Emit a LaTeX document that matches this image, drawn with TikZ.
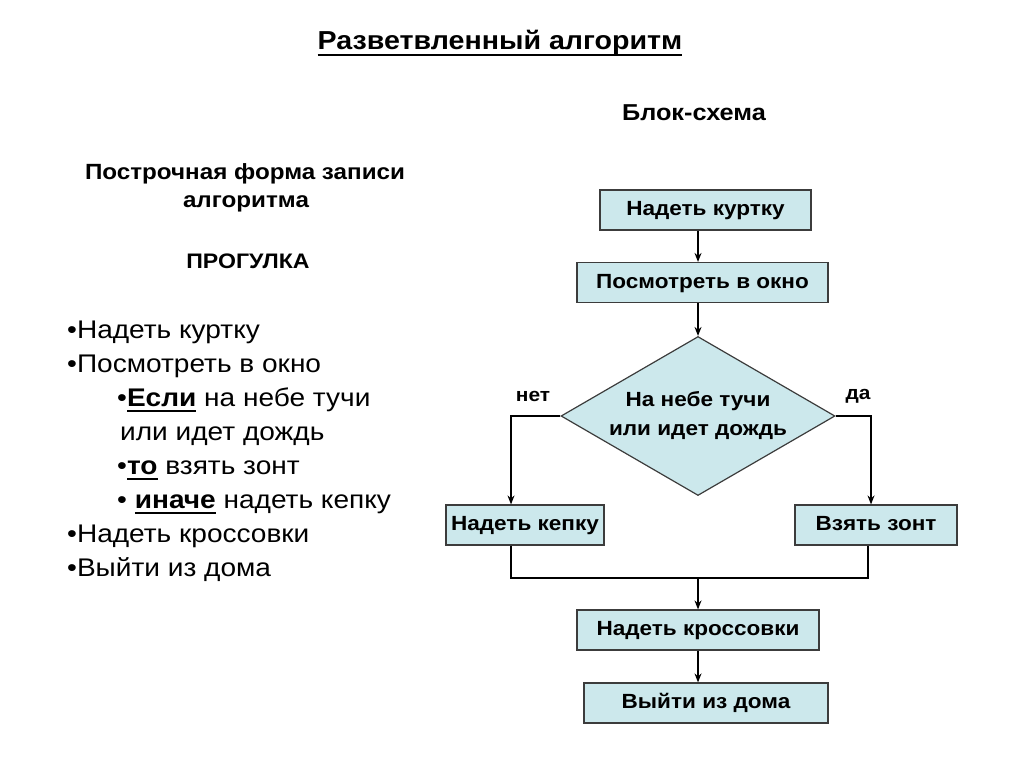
\documentclass[tikz,border=0pt]{standalone}
\usepackage{fontspec}
\setmainfont{Liberation Sans}[FakeStretch=1.1]
\usetikzlibrary{arrows.meta, positioning, shapes.geometric}

\definecolor{boxfill}{RGB}{204,232,236}
\definecolor{boxline}{RGB}{60,60,60}

% thick underline
\newcommand{\thickul}[3]{\setbox0\hbox{#3}\rlap{\rule[#1]{\wd0}{#2}}\box0\relax}

\tikzset{
	block/.style={draw=boxline, fill=boxfill, line width=1.2pt, inner sep=0pt, minimum height=40pt, text height=14pt, text depth=3pt, font=\fontsize{20.5}{24}\selectfont\bfseries},
	cond/.style={diamond, aspect=1.72, draw=boxline, fill=boxfill, line width=1.2pt, inner sep=0pt, minimum width=274pt, minimum height=159pt, align=center, font=\fontsize{20.5}{29}\selectfont\bfseries},
	arr/.style={-{Stealth[length=9pt,width=7pt]}, line width=1.2pt},
	link/.style={line width=1.2pt},
	item/.style={anchor=base west, inner sep=0pt, font=\fontsize{25.5}{30}\selectfont},
	head/.style={anchor=base, inner sep=0pt, font=\fontsize{22}{26}\selectfont\bfseries},
	answer/.style={inner sep=0pt, font=\fontsize{19}{22}\selectfont\bfseries},
}

\begin{document}
\begin{tikzpicture}[x=1pt,y=-1pt]
	\useasboundingbox (0,0) rectangle (1024,767);
	
	% headings
	\node(title) [head, font=\fontsize{26}{30}\selectfont\bfseries] at (500,50) {\thickul{-6pt}{2pt}{Разветвленный алгоритм}};
	\node(scheme) [head, font=\fontsize{23}{26}\selectfont\bfseries] at (694,121) {Блок-схема};
	\node(form1) [head] at (245,180) {Построчная форма записи};
	\node(form2) [head] at (246,208) {алгоритма};
	\node(walk) [head, font=\fontsize{21}{24}\selectfont\bfseries] at (248,268) {ПРОГУЛКА};
	
	% line-by-line form
	\node(l1) [item] at (67,338) {•Надеть куртку};
	\node(l2) [item] at (67,372) {•Посмотреть в окно};
	\node(l3) [item] at (117,406) {•\thickul{-6pt}{2.5pt}{\textbf{Если}} на небе тучи};
	\node(l4) [item] at (120,440) {или идет дождь};
	\node(l5) [item] at (117,474) {•\thickul{-6pt}{2.5pt}{\textbf{то}} взять зонт};
	\node(l6) [item] at (117,508) {• \thickul{-6pt}{2.5pt}{\textbf{иначе}} надеть кепку};
	\node(l7) [item] at (67,542) {•Надеть кроссовки};
	\node(l8) [item] at (67,576) {•Выйти из дома};
	
	% flowchart
	\node(kurtka) [block, minimum width=211pt] at (705.5,210) {Надеть куртку};
	\node(okno) [block, minimum width=251pt] at (702.5,282.5) {Посмотреть в окно};
	\node(tuchi) [cond] at (698,416) {На небе тучи\\или идет дождь};
	\node(kepka) [block, minimum width=158pt] at (525,525) {Надеть кепку};
	\node(zont) [block, minimum width=162pt] at (876,525) {Взять зонт};
	\node(krossovki) [block, minimum width=242pt] at (698,630) {Надеть кроссовки};
	\node(vyiti) [block, minimum width=244pt] at (706,703) {Выйти из дома};
	
	\node(net) [answer] at (533,396) {нет};
	\node(da) [answer] at (858,396) {да};
	
	\coordinate (axis) at (698,0);
	\coordinate (join) at (698,578);
	
	\draw[arr] (kurtka.south -| axis) -- (okno.north -| axis);
	\draw[arr] (okno.south -| axis) -- (tuchi.north);
	\draw[arr] (tuchi.west) -| ([xshift=-14pt]kepka.north);
	\draw[arr] (tuchi.east) -| ([xshift=-5pt]zont.north);
	\draw[link] ([xshift=-14pt]kepka.south) |- (join) -| ([xshift=-8pt]zont.south);
	\draw[arr] (join) -- (krossovki.north -| axis);
	\draw[arr] (krossovki.south -| axis) -- (vyiti.north -| axis);
	
\end{tikzpicture}
\end{document}
